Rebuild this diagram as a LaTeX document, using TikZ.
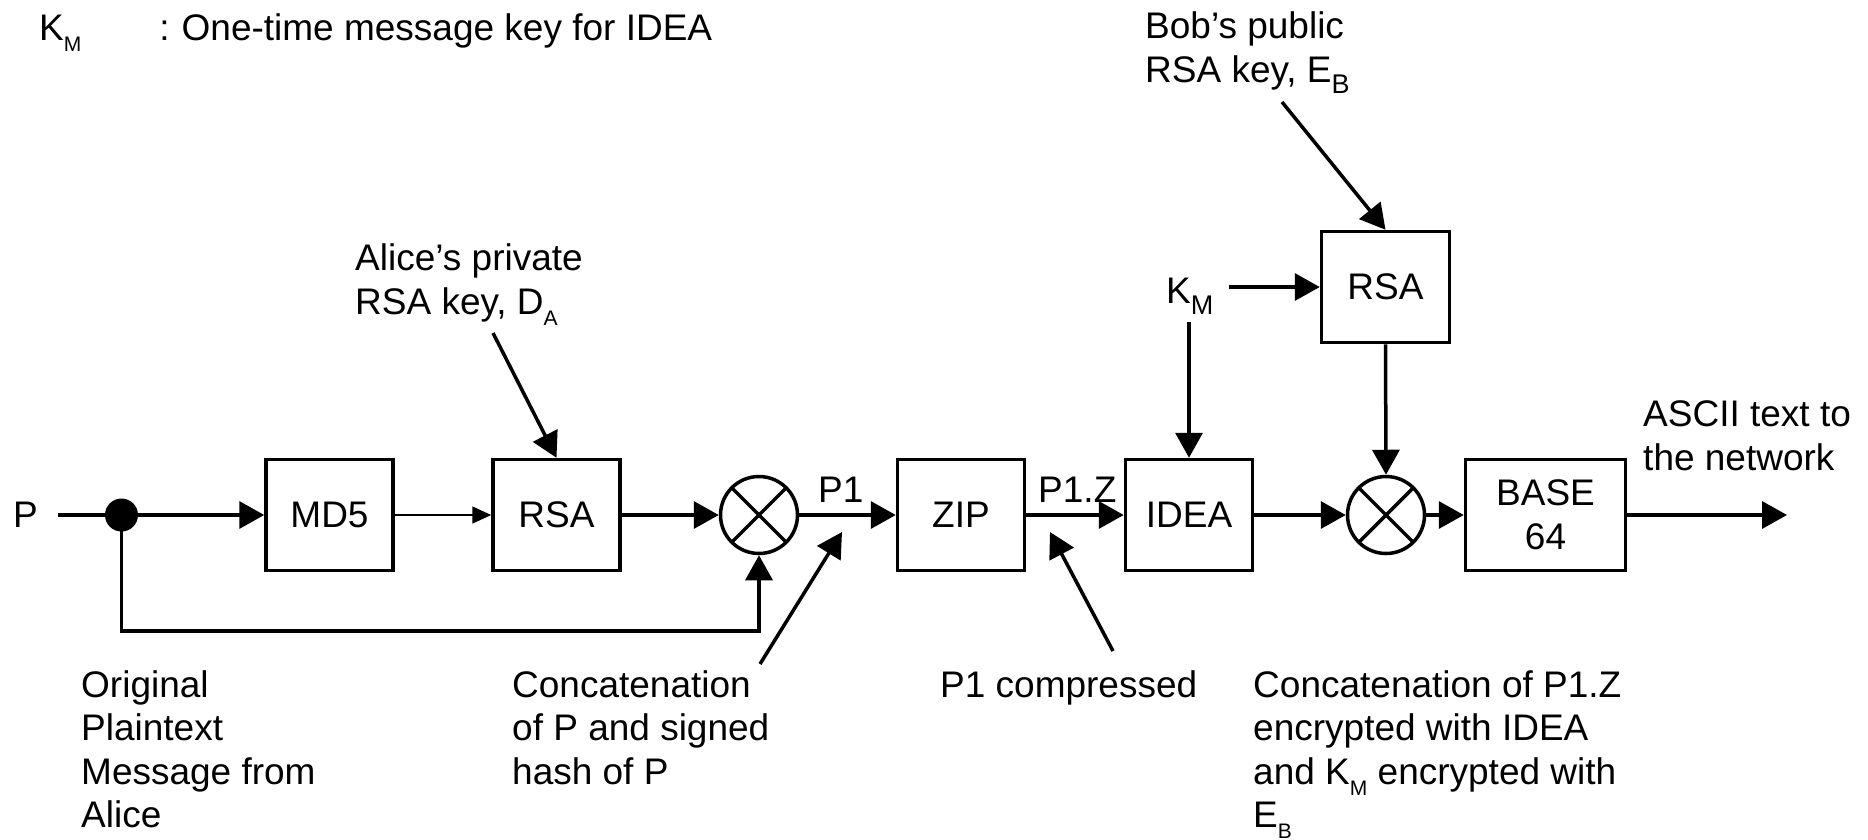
\documentclass[tikz,border=0pt]{standalone}
\usepackage{fontspec}
\setmainfont{Liberation Sans}
\usetikzlibrary{arrows.meta,calc}
\newcommand{\sbs}[2][22]{\raisebox{-11pt}{\fontsize{#1}{#1}\selectfont #2}}
\begin{document}
\begin{tikzpicture}[x=1pt,y=-1pt,
  every node/.style={font=\fontsize{37}{43.5}\selectfont},
  blk/.style={draw,line width=3.5pt,minimum width=127pt,minimum height=111pt,inner sep=0},
  mix/.style={draw,circle,line width=3.5pt,minimum size=77pt,inner sep=0},
  lbl/.style={anchor=base west,align=left,inner sep=0},
  flow/.style={line width=3.5pt,-{Triangle[length=25pt,width=27pt]}},
  thinflow/.style={line width=1.6pt,-{Triangle[length=19pt,width=17pt]}},
  wire/.style={line width=3.5pt}]

\useasboundingbox (0,0) rectangle (1868,839);

% text labels (base = baseline of the last line)
\node[lbl] (legend) at (39,40) {K\sbs[21]{M}\hspace{78pt}:\hspace{12pt}One-time message key for IDEA};
\node[lbl] (alice) at (355,314) {Alice’s private\\RSA key, D\sbs[21]{A}};
\node[lbl] (bob) at (1145,82) {Bob’s public\\RSA key, E\sbs[27]{B}};
\node[lbl] (km) at (1166,303) {K\sbs[27]{M}};
\node[lbl] (ascii) at (1643,470) {ASCII text to\\the network};
\node[lbl] (orig) at (81,827.5) {Original\\Plaintext\\Message from\\Alice};
\node[lbl] (concat) at (512,784) {Concatenation\\of P and signed\\hash of P};
\node[lbl] (compr) at (940,697) {P1 compressed};
\node[lbl] (concat2) at (1253,827.5) {Concatenation of P1.Z\\encrypted with IDEA\\and K\sbs[21]{M} encrypted with\\E\sbs[21]{B}};
\node[lbl] (p1) at (818,502) {P1};
\node[lbl] (p1z) at (1038,502) {P1.Z};

% blocks
\node[inner xsep=20pt] (p) at (25.5,515) {P};
\node[circle,fill,minimum size=33pt,inner sep=0] (dot) at (121.5,515) {};
\node[blk] (md5) at (329.5,515) {MD5};
\node[blk] (rsa1) at (556.5,515) {RSA};
\node[mix] (c1) at (759,515) {};
\node[blk] (zip) at (961,515) {ZIP};
\node[blk] (idea) at (1189,515) {IDEA};
\node[mix] (c2) at (1386,515) {};
\node[blk,minimum width=160pt,align=center] (b64) at (1545.5,515) {BASE\\64};
\node[blk,minimum width=128pt] (rsa2) at (1385.5,287) {RSA};

% crosses
\foreach \c in {c1,c2}{
  \draw[line width=3.5pt] ($(\c.center)+(45:38.5)$) -- ($(\c.center)+(225:38.5)$)
                          ($(\c.center)+(135:38.5)$) -- ($(\c.center)+(315:38.5)$);
}

% free ends
\coordinate (fb) at (121.5,631);
\coordinate (out) at (1787,515);
\coordinate (at) at (493,333);
\coordinate (bt) at (1282,102);
\coordinate (kmr) at (1229,287);
\coordinate (kmd) at (1189,322);
\coordinate (ct) at (760,664);
\coordinate (ch) at (842,532);
\coordinate (pt) at (1113,651);
\coordinate (ph) at (1050,532);

% connectors
\draw[wire] (p.east) -- (dot);
\draw[flow] (dot) -- (md5);
\draw[thinflow] (md5) -- (rsa1);
\draw[flow] (rsa1) -- (c1);
\draw[flow] (c1) -- (zip);
\draw[flow] (zip) -- (idea);
\draw[flow] (idea) -- (c2);
\draw[flow] (c2) -- (b64);
\draw[flow] (b64) -- (out);
\draw[flow] (dot.center) -- (fb) -| (c1.south);
\draw[flow] (at) -- (rsa1.north);
\draw[flow] (bt) -- (rsa2.north);
\draw[flow] (kmr) -- (rsa2.west);
\draw[flow] (kmd) -- (idea.north);
\draw[flow] (rsa2.south) -- (c2.north);
\draw[flow] (ct) -- (ch);
\draw[flow] (pt) -- (ph);
\end{tikzpicture}
\end{document}
